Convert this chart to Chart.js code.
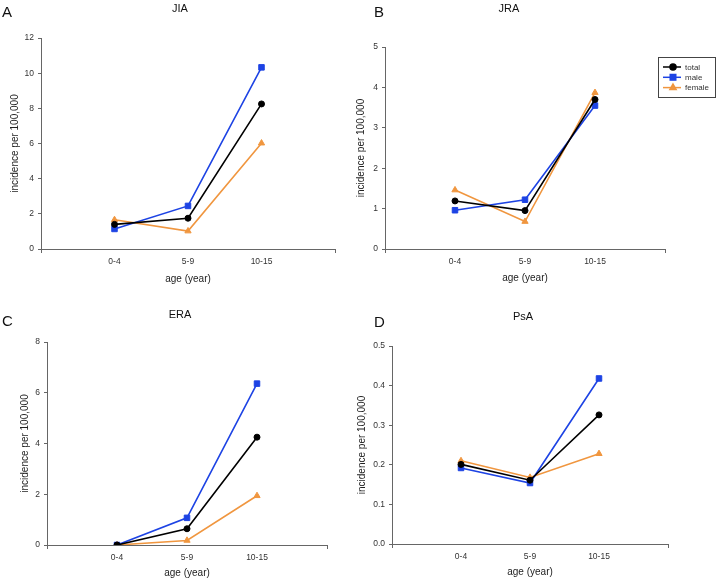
<!DOCTYPE html>
<html>
<head>
<meta charset="utf-8">
<title>Incidence per 100,000 by age group</title>
<script src="https://cdn.jsdelivr.net/npm/chart.js@4.4.1/dist/chart.umd.min.js"></script>
<style>
body { margin: 0; background: #fff; }
#wrap { position: relative; width: 720px; height: 582px; overflow: hidden; }
#wrap canvas { position: absolute; }
</style>
</head>
<body>
<div id="wrap">
  <canvas id="cA" width="350" height="290" style="left:0;top:0"></canvas>
  <canvas id="cB" width="370" height="290" style="left:350px;top:0"></canvas>
  <canvas id="cC" width="350" height="292" style="left:0;top:290px"></canvas>
  <canvas id="cD" width="370" height="292" style="left:350px;top:290px"></canvas>
</div>
<script>
// categories
const ageGroups = ['0-4', '5-9', '10-15'];
const seriesNames = ['total', 'male', 'female'];

// JIA
const jiaTotal = [1.40, 1.75, 8.25];
const jiaMale = [1.14, 2.45, 10.33];
const jiaFemale = [1.66, 1.02, 6.02];
// JRA
const jraTotal = [1.19, 0.95, 3.70];
const jraMale = [0.96, 1.22, 3.55];
const jraFemale = [1.46, 0.68, 3.87];
// ERA
const eraTotal = [0, 0.64, 4.25];
const eraMale = [0, 1.07, 6.36];
const eraFemale = [0, 0.18, 1.94];
// PsA
const psaTotal = [0.201, 0.161, 0.326];
const psaMale = [0.192, 0.154, 0.418];
const psaFemale = [0.210, 0.168, 0.228];

// y tick labels
const jiaTicks = [0, 2, 4, 6, 8, 10, 12];
const jraTicks = [0, 1, 2, 3, 4, 5];
const eraTicks = [0, 2, 4, 6, 8];
const psaTicks = [0, 0.1, 0.2, 0.3, 0.4, 0.5];

const FONT = '"Liberation Sans", Arial, sans-serif';
const axisGrey = '#666';
const textGrey = '#333';
const styles = [
  { color: '#000000', pointStyle: 'circle', radius: 3 },
  { color: '#1d43e4', pointStyle: 'rect', radius: 3.9 },
  { color: '#f0963f', pointStyle: 'triangle', radius: 3.6 }
];

// panel letter + title, drawn at fixed spots of each canvas
const headerPlugin = {
  id: 'header',
  afterDraw(chart, args, opts) {
    const ctx = chart.ctx;
    ctx.save();
    ctx.fillStyle = '#111';
    ctx.textBaseline = 'middle';
    ctx.textAlign = 'left';
    ctx.font = '15px ' + FONT;
    ctx.fillText(opts.letter, opts.letterX, opts.letterY);
    ctx.textAlign = 'center';
    ctx.font = '11px ' + FONT;
    ctx.fillText(opts.title, opts.titleX, opts.titleY);
    ctx.restore();
  }
};

// excel-like legend: line + marker, in a box
const boxLegendPlugin = {
  id: 'boxLegend',
  afterDraw(chart, args, opts) {
    if (!opts.show) return;
    const ctx = chart.ctx;
    ctx.save();
    ctx.strokeStyle = '#444';
    ctx.lineWidth = 1;
    ctx.strokeRect(opts.x + 0.5, opts.y + 0.5, opts.w, opts.h);
    ctx.font = '8px ' + FONT;
    ctx.textBaseline = 'middle';
    ctx.textAlign = 'left';
    chart.data.datasets.forEach(function(ds, i) {
      const y = opts.y + 10 + i * 10.3;
      const x0 = opts.x + 5;
      ctx.strokeStyle = ds.borderColor;
      ctx.lineWidth = 1.5;
      ctx.beginPath();
      ctx.moveTo(x0, y);
      ctx.lineTo(x0 + 18, y);
      ctx.stroke();
      Chart.helpers.drawPoint(ctx, {
        pointStyle: ds.pointStyle, radius: ds.pointRadius, rotation: 0, borderWidth: 1
      }, x0 + 10, y);
      ctx.fillStyle = ds.borderColor;
      ctx.fill();
      ctx.fillStyle = textGrey;
      ctx.fillText(ds.label, x0 + 22, y + 0.5);
    });
    ctx.restore();
  }
};

function makePanel(canvasId, p) {
  const labels = [''].concat(ageGroups, ['']);
  const datasets = p.series.map(function(vals, i) {
    const s = styles[i];
    return {
      label: seriesNames[i],
      data: [null].concat(vals, [null]),
      borderColor: s.color,
      backgroundColor: s.color,
      pointBackgroundColor: s.color,
      pointBorderColor: s.color,
      pointStyle: s.pointStyle,
      pointRadius: s.radius,
      pointBorderWidth: 1,
      borderWidth: 1.6,
      tension: 0
    };
  });
  const W = p.W, H = p.H;
  new Chart(document.getElementById(canvasId), {
    type: 'line',
    data: { labels: labels, datasets: datasets },
    options: {
      responsive: false,
      animation: false,
      layout: { padding: { left: 0, top: p.top, right: W - p.right, bottom: 0 } },
      plugins: {
        legend: { display: false },
        tooltip: { enabled: false },
        header: p.header,
        boxLegend: p.legend || { show: false }
      },
      scales: {
        x: {
          type: 'category',
          offset: false,
          afterFit: function(s) { s.height = H - p.bottom; },
          grid: {
            drawOnChartArea: false,
            tickLength: 4,
            color: function(c) { return (c.index === 0 || c.index === labels.length - 1) ? axisGrey : 'rgba(0,0,0,0)'; }
          },
          border: { display: true, color: axisGrey, width: 1 },
          ticks: { autoSkip: false, maxRotation: 0, padding: 4, color: textGrey, font: { family: FONT, size: 8.5 } },
          title: {
            display: true, text: 'age (year)', color: '#222',
            font: { family: FONT, size: 10, lineHeight: 1.2 },
            padding: { top: 0, bottom: H - p.xTitleY - 6 }
          }
        },
        y: {
          min: 0,
          max: p.ticks[p.ticks.length - 1],
          afterFit: function(s) { s.width = p.left; },
          afterBuildTicks: function(s) { s.ticks = p.ticks.map(function(v) { return { value: v }; }); },
          grid: { drawOnChartArea: false, tickLength: 3, color: axisGrey },
          border: { display: true, color: axisGrey, width: 1 },
          ticks: {
            padding: 4, color: textGrey, font: { family: FONT, size: 8.5 },
            callback: function(v) { return p.decimals ? Number(v).toFixed(p.decimals) : String(v); }
          },
          title: {
            display: true, text: 'incidence per 100,000', color: '#222',
            font: { family: FONT, size: 10, lineHeight: 1.2 },
            padding: { top: p.yTitleX - 6, bottom: 0 }
          }
        }
      }
    },
    plugins: [headerPlugin, boxLegendPlugin]
  });
}

makePanel('cA', {
  W: 350, H: 290, left: 41, right: 335, top: 38, bottom: 249,
  yTitleX: 15, xTitleY: 279, ticks: jiaTicks, decimals: 0,
  series: [jiaTotal, jiaMale, jiaFemale],
  header: { letter: 'A', letterX: 2, letterY: 13, title: 'JIA', titleX: 180, titleY: 9 }
});
makePanel('cB', {
  W: 370, H: 290, left: 35, right: 315, top: 47, bottom: 249,
  yTitleX: 11, xTitleY: 278, ticks: jraTicks, decimals: 0,
  series: [jraTotal, jraMale, jraFemale],
  header: { letter: 'B', letterX: 24, letterY: 13, title: 'JRA', titleX: 159, titleY: 9 },
  legend: { show: true, x: 308, y: 57, w: 57, h: 40 }
});
makePanel('cC', {
  W: 350, H: 292, left: 47, right: 327, top: 52, bottom: 255,
  yTitleX: 25, xTitleY: 283, ticks: eraTicks, decimals: 0,
  series: [eraTotal, eraMale, eraFemale],
  header: { letter: 'C', letterX: 2, letterY: 32, title: 'ERA', titleX: 180, titleY: 25 }
});
makePanel('cD', {
  W: 370, H: 292, left: 42, right: 318, top: 56, bottom: 254,
  yTitleX: 12, xTitleY: 282, ticks: psaTicks, decimals: 1,
  series: [psaTotal, psaMale, psaFemale],
  header: { letter: 'D', letterX: 24, letterY: 33, title: 'PsA', titleX: 173, titleY: 27 }
});
</script>
</body>
</html>
